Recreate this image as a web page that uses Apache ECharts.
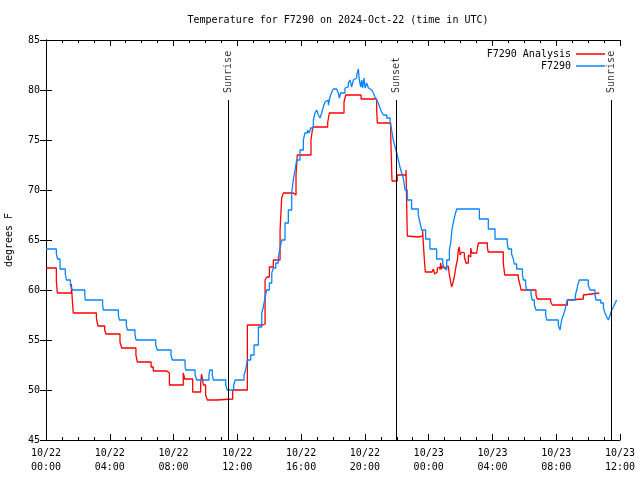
<!DOCTYPE html>
<html>
<head>
<meta charset="utf-8">
<script src="https://cdn.jsdelivr.net/npm/echarts@6/dist/echarts.min.js"></script>
<style>html,body{margin:0;padding:0;background:#fff}#c{width:640px;height:480px}</style>
</head>
<body>
<div id="c"></div>
<script>
// hours since 2024-10-22 00:00 UTC
const obsTimes = [0,0.65,0.73,0.88,1.21,1.28,1.53,1.65,2.43,2.47,3.55,3.6,4.54,4.6,5.04,5.1,5.58,5.65,6.88,6.98,7.84,7.92,8.72,8.76,9.35,9.45,10.22,10.27,10.43,10.49,11.27,11.37,11.77,11.87,12.42,12.52,12.63,12.84,13.05,13.32,13.53,13.63,13.74,13.84,14.01,14.16,14.26,14.41,14.57,14.68,14.78,14.99,15.2,15.41,15.51,15.62,15.72,15.93,16.14,16.24,16.39,16.5,16.6,16.77,16.87,16.98,17.08,17.19,17.29,17.39,17.5,17.6,17.71,17.81,17.92,18.02,18.23,18.33,18.4,18.48,18.75,18.86,18.96,19.07,19.17,19.28,19.38,19.49,19.59,19.65,19.74,19.8,19.86,19.94,20.01,20.11,20.22,20.32,20.43,20.53,20.63,20.74,20.84,20.95,21.05,21.16,21.37,21.58,21.68,21.78,21.89,22.0,22.1,22.2,22.31,22.41,22.52,22.66,22.93,23.35,23.46,23.56,23.81,24.08,24.5,24.88,24.96,25.02,25.13,25.3,25.38,25.46,25.55,25.65,25.76,27.18,27.74,28.16,28.93,29.0,29.2,29.31,29.37,29.52,29.88,29.94,30.08,30.15,30.42,30.5,30.63,30.73,31.34,31.4,32.13,32.24,32.34,32.45,32.55,32.61,32.7,33.2,33.29,33.35,33.45,34.01,34.12,34.43,34.5,34.79,34.96,35.06,35.17,35.27,35.38,35.48,35.59,35.7,35.79];
const obsTemps = [64.1,63.6,63.1,62.1,61.6,61.0,60.5,60.0,59.5,59.0,58.5,58.0,57.5,57.0,56.5,56.0,55.5,55.0,54.5,54.0,53.5,53.0,52.5,52.0,51.5,51.0,51.5,52.0,51.5,51.0,50.5,50.0,50.5,51.0,51.5,52.0,53.0,53.5,54.5,56.3,57.7,58.3,59.3,60.0,60.7,61.7,62.2,62.7,63.3,64.2,65.0,66.7,68.0,69.7,71.0,72.0,73.0,74.0,75.0,75.7,76.0,75.7,76.2,77.0,77.7,78.0,77.5,77.2,77.7,78.3,78.8,79.0,78.5,79.3,79.8,80.1,80.0,79.7,79.2,79.7,80.2,80.3,80.7,81.0,80.3,81.0,81.2,81.5,82.1,81.0,80.3,81.0,80.2,81.2,80.2,80.7,80.2,80.0,79.8,79.7,79.3,79.0,78.7,78.2,77.8,77.5,77.2,76.7,76.0,75.0,74.3,73.7,73.0,72.3,71.7,71.2,70.0,69.0,68.1,67.5,66.7,66.0,65.1,64.1,63.1,62.7,62.2,62.0,63.0,64.0,64.7,66.0,66.8,67.5,68.1,67.1,66.1,65.1,64.6,64.1,63.6,63.1,62.6,62.1,61.6,61.0,60.5,60.0,59.5,59.0,58.5,58.0,57.5,57.0,56.5,56.0,57.0,57.5,58.0,58.5,59.0,59.5,60.0,60.5,61.0,60.5,60.0,59.5,59.0,58.7,58.2,57.7,57.3,57.0,57.5,58.0,58.3,58.7,59.0];

const anaTimes = [0,0.65,0.71,1.59,1.65,1.71,3.16,3.26,3.68,3.76,4.64,4.75,5.64,5.73,6.59,6.73,7.57,7.74,8.61,8.7,9.2,9.7,9.76,9.87,10.01,10.12,10.7,11.71,12.63,13.59,13.74,13.85,14.01,14.26,14.68,14.78,14.89,15.51,15.68,15.76,16.62,16.73,17.67,17.77,18.69,18.8,19.76,20.74,20.78,21.62,21.7,22.03,22.58,22.66,22.72,23.35,23.62,23.68,23.73,23.79,24.21,24.25,24.29,24.38,24.46,24.54,24.63,24.71,24.75,24.81,24.88,24.96,25.04,25.23,25.3,25.38,25.44,25.5,25.59,25.65,25.72,25.8,25.86,25.92,25.97,26.03,26.09,26.17,26.24,26.34,26.49,26.55,26.64,26.7,27.01,27.07,27.12,27.68,27.74,28.68,28.77,29.62,29.73,29.79,30.73,30.81,31.65,31.76,32.7,32.76,33.7,33.81,34.7];
const anaTemps = [62.2,60.9,59.7,60.6,59.0,57.7,57.2,56.4,56.0,55.6,54.8,54.2,53.5,52.8,52.3,51.9,51.7,50.5,51.7,51.1,49.8,50.7,51.6,50.5,49.5,49.0,49.1,50.0,56.5,56.6,61.0,61.3,62.3,63.0,66.0,69.2,69.7,69.5,71.5,73.5,75.0,76.3,76.8,77.7,78.8,79.5,79.1,78.0,76.7,75.5,70.9,71.5,72.0,65.4,65.3,65.4,65.9,65.7,63.0,61.8,62.0,61.7,62.1,61.6,61.8,62.2,62.3,62.0,62.7,62.1,62.4,62.2,62.4,62.3,61.5,60.8,60.3,60.6,61.2,61.7,62.4,63.0,64.0,64.3,63.5,63.3,63.8,63.7,63.3,62.7,63.5,63.3,64.2,63.7,63.8,64.3,64.7,64.2,63.8,62.7,61.5,61.2,60.5,60.0,59.5,59.1,58.8,58.5,59.0,59.1,59.5,59.7,59.7];

const sunTimes = [11.41, 21.95, 35.44];
const sunNames = ['Sunrise', 'Sunset', 'Sunrise'];
const dayLabels = ['10/22', '10/23'];

const FONT = 'DejaVu Sans Mono';
const chart = echarts.init(document.getElementById('c'), null, {renderer: 'canvas'});

function zip(a, b) { return a.map((t, i) => [t, b[i]]); }
function pad(n) { return (n < 10 ? '0' : '') + n; }

const axisCommon = {
  type: 'value', min: 0, max: 36, interval: 4,
  axisLine: {show: true, lineStyle: {color: '#000', width: 1}},
  axisTick: {show: true, inside: true, length: 6, lineStyle: {color: '#000'}},
  minorTick: {show: true, splitNumber: 4, length: 3, lineStyle: {color: '#000'}},
  splitLine: {show: false}
};
const yCommon = {
  type: 'value', min: 45, max: 85, interval: 5,
  axisLine: {show: true, lineStyle: {color: '#000', width: 1}},
  axisTick: {show: true, inside: true, length: 6, lineStyle: {color: '#000'}},
  splitLine: {show: false}
};

chart.setOption({
  animation: false,
  backgroundColor: '#fff',
  title: {
    text: 'Temperature for F7290 on 2024-Oct-22 (time in UTC)',
    left: 333, top: 10, textAlign: 'center',
    textStyle: {fontFamily: FONT, fontSize: 10, fontWeight: 'normal', color: '#000'}
  },
  grid: {left: 46, right: 20, top: 40, bottom: 40, containLabel: false, outerBoundsMode: 'none'},
  legend: [
    {data: [{name: 'F7290 Analysis'}], right: 30, top: 44, align: 'right', icon: 'rect',
     itemWidth: 29, itemHeight: 1.5, itemGap: 6,
     textStyle: {fontFamily: FONT, fontSize: 10, color: '#000'}},
    {data: [{name: 'F7290'}], right: 30, top: 56, align: 'right', icon: 'rect',
     itemWidth: 29, itemHeight: 1.5, itemGap: 6,
     textStyle: {fontFamily: FONT, fontSize: 10, color: '#000'}}
  ],
  xAxis: [
    Object.assign({}, axisCommon, {
      position: 'bottom',
      axisLabel: {
        show: true, color: '#000', fontFamily: FONT, fontSize: 10, lineHeight: 14, margin: 6,
        showMinLabel: true, showMaxLabel: true, hideOverlap: false,
        formatter: v => dayLabels[Math.floor(v / 24) >= 1 ? 1 : 0] + '\n' + pad(v % 24) + ':00'
      }
    }),
    Object.assign({}, axisCommon, {position: 'top', axisLabel: {show: false}})
  ],
  yAxis: [
    Object.assign({}, yCommon, {
      position: 'left',
      name: 'degrees F', nameLocation: 'middle', nameGap: 32, nameRotate: 90,
      nameTextStyle: {fontFamily: FONT, fontSize: 10, color: '#000'},
      axisLabel: {color: '#000', fontFamily: FONT, fontSize: 10, margin: 6}
    }),
    Object.assign({}, yCommon, {position: 'right', axisLabel: {show: false}})
  ],
  series: [
    {
      name: 'F7290 Analysis', type: 'line', step: 'end', showSymbol: false, symbol: 'none',
      data: zip(anaTimes, anaTemps), color: '#ff0000',
      lineStyle: {color: '#ff0000', width: 1.3}, z: 3
    },
    {
      name: 'F7290', type: 'line', step: 'end', showSymbol: false, symbol: 'none',
      data: zip(obsTimes, obsTemps), color: '#0a84ff',
      lineStyle: {color: '#0a84ff', width: 1.3}, z: 4
    },
    {
      name: 'sun', type: 'scatter', symbolSize: 0.01, silent: true,
      data: sunTimes.map((t, i) => ({value: [t, 79], name: sunNames[i]})),
      label: {
        show: true, position: 'top', distance: 7, rotate: 90, align: 'left', verticalAlign: 'middle',
        formatter: '{b}', fontFamily: FONT, fontSize: 10, color: '#000'
      },
      markLine: {
        silent: true, symbol: ['none', 'none'], label: {show: false},
        lineStyle: {color: '#000', width: 1, type: 'solid'},
        data: sunTimes.map(t => [{coord: [t, 45]}, {coord: [t, 79]}])
      },
      z: 2
    }
  ]
});
</script>
</body>
</html>
